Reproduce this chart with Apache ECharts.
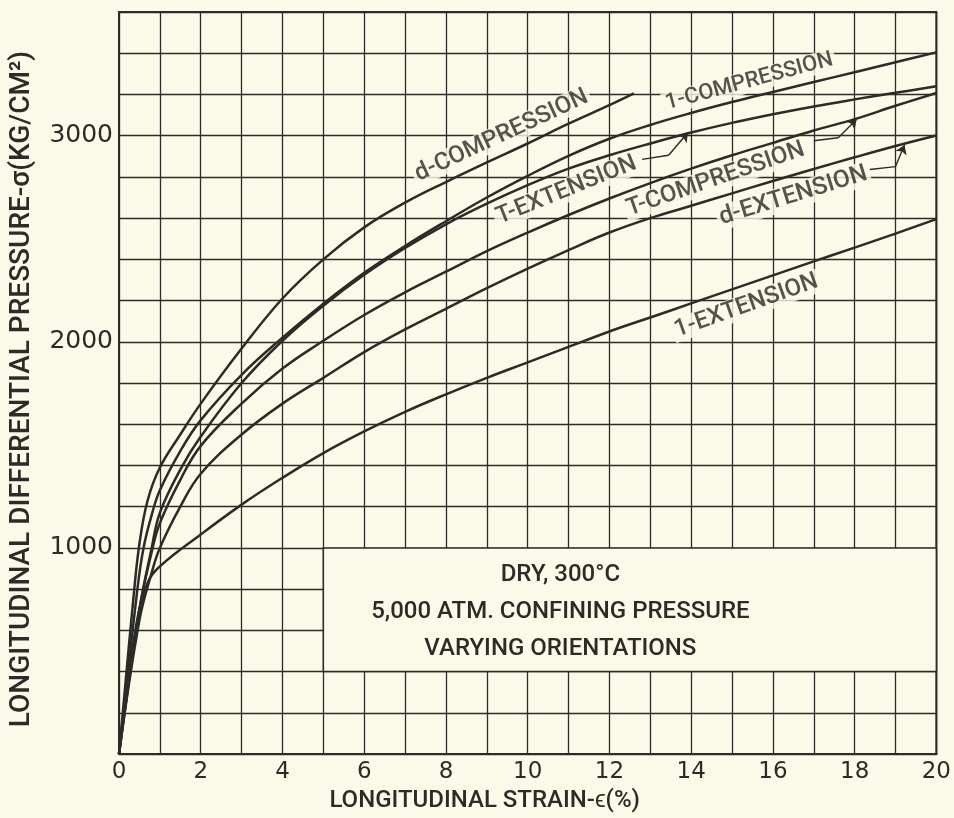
<!DOCTYPE html>
<html><head><meta charset="utf-8">
<script src="https://cdn.jsdelivr.net/npm/echarts@6/dist/echarts.min.js"></script>
<style>html,body{margin:0;padding:0;background:#FBFAE9;} #c{width:954px;height:818px;}</style>
</head><body><div id="c"></div>
<script>
// ---- data (strain %, stress kg/cm2) ----
const dCompression = [[0,0],[0.35,750],[0.5,1020],[0.7,1230],[1,1390],[1.5,1550],[2,1700],[3,1967],[4,2210],[5,2400],[6,2555],[7,2675],[8,2775],[9,2870],[10,2962],[11,3058],[12,3148],[12.6,3205]];
const oneCompression = [[0,0],[0.45,800],[0.6,1000],[0.8,1160],[1,1280],[1.5,1470],[2,1620],[3,1840],[4,2020],[5,2185],[6,2335],[7,2465],[8,2585],[9,2700],[10,2805],[11,2902],[12,2985],[13,3052],[14,3110],[15,3163],[16,3212],[17,3260],[18,3308],[19,3356],[20,3404]];
const tExtension = [[0,0],[0.5,700],[0.8,1000],[1,1170],[1.5,1380],[2,1540],[3,1800],[4,2005],[5,2175],[6,2325],[7,2455],[8,2570],[9,2670],[10,2760],[11,2840],[12,2905],[13,2962],[14,3015],[15,3062],[16,3104],[17,3142],[18,3176],[19,3208],[20,3240]];
const tCompression = [[0,0],[0.5,700],[0.8,980],[1,1120],[1.5,1330],[2,1495],[3,1700],[4,1870],[5,2005],[6,2130],[7,2240],[8,2340],[9,2440],[10,2530],[11,2615],[12,2695],[13,2770],[14,2840],[15,2905],[16,2965],[17,3025],[18,3080],[19,3145],[20,3207]];
const dExtension = [[0,0],[0.5,650],[0.8,880],[1,1000],[1.5,1200],[2,1360],[3,1550],[4,1700],[5,1825],[6,1950],[7,2060],[8,2160],[9,2260],[10,2355],[11,2445],[12,2530],[13,2600],[14,2660],[15,2720],[16,2780],[17,2838],[18,2895],[19,2950],[20,3001]];
const oneExtension = [[0,0],[0.4,600],[0.7,830],[1,910],[2,1065],[3,1210],[4,1340],[5,1460],[6,1565],[7,1660],[8,1745],[9,1825],[10,1900],[11,1975],[12,2050],[13,2118],[14,2186],[15,2254],[16,2322],[17,2390],[18,2457],[19,2525],[20,2595]];

const xTickLabels = ['0','2','4','6','8','10','12','14','16','18','20'];
const yTickLabels = ['1000','2000','3000'];

// curve labels: text, strain, stress, angle, font size
const curveLabels = [
  ['d-COMPRESSION', 9.36, 3000, 25, 24],
  ['1-COMPRESSION', 15.42, 3262, 15, 22],
  ['T-EXTENSION', 10.95, 2735, 22, 24],
  ['T-COMPRESSION', 14.6, 2788, 19, 24],
  ['d-EXTENSION', 16.5, 2708, 17, 24.5],
  ['1-EXTENSION', 15.35, 2174, 19.5, 24]
];
// leader dashes and arrows
const leaderDashes = [
  [[12.8,2885],[13.45,2905]],
  [[17.0,2975],[17.6,2990]],
  [[18.37,2836],[19.0,2850]]
];
const leaderArrows = [
  [[13.45,2905],[13.92,3015]],
  [[17.6,2990],[18.05,3080]],
  [[19.0,2850],[19.22,2955]]
];
const noteBox = [[5,400],[20,1000]];
const noteText = 'DRY, 300°C\n5,000 ATM. CONFINING PRESSURE\nVARYING ORIENTATIONS';
const notePos = [10.8, 691];

const BG = '#FBFAE9', INK = '#2b2b27';
const FONT = "Roboto, 'Liberation Sans'";

function curve(name, data){
  return {name, type:'line', data, smooth:0.4, showSymbol:false,
    lineStyle:{color:INK, width:2.5}, z:3};
}

const option = {
  backgroundColor: BG,
  animation: false,
  grid: {left:118, right:14, top:12, bottom:61, show:true, borderColor:INK, borderWidth:2, backgroundColor:'transparent'},
  xAxis: {type:'value', min:0, max:20, interval:1,
    name:'LONGITUDINAL STRAIN-ϵ(%)', nameLocation:'middle', nameGap:35,
    nameTextStyle:{fontFamily:FONT, fontWeight:500, fontSize:24, color:INK, padding:[0,86,0,0]},
    axisLine:{show:true, lineStyle:{color:INK, width:2}}, axisTick:{show:false},
    axisLabel:{fontFamily:'DejaVu Sans', fontSize:23, color:INK, margin:7,
      formatter: v => { const i = xTickLabels.indexOf(String(v)); return i>=0 ? xTickLabels[i] : ''; }},
    splitLine:{show:true, lineStyle:{color:INK, width:1.3}}},
  yAxis: {type:'value', min:0, max:3600, interval:200,
    name:'LONGITUDINAL DIFFERENTIAL PRESSURE-σ(KG/CM²)', nameLocation:'middle', nameGap:83,
    nameTextStyle:{fontFamily:FONT, fontWeight:500, fontSize:28, color:INK, padding:[0,12,0,0]},
    axisLine:{show:true, lineStyle:{color:INK, width:2}}, axisTick:{show:false},
    axisLabel:{fontFamily:'DejaVu Sans', fontSize:25, color:INK, margin:6,
      formatter: v => { const i = yTickLabels.indexOf(String(v)); return i>=0 ? yTickLabels[i] : ''; }},
    splitLine:{show:true, lineStyle:{color:INK, width:1.3}}},
  series: [
    {name:'notes', type:'scatter', data:[], z:2,
      markArea:{silent:true, itemStyle:{color:BG, borderColor:INK, borderWidth:1.5},
        data:[[{coord:noteBox[0]},{coord:noteBox[1]}]]},
      markPoint:{silent:true, symbolSize:0,
        data:[{coord:notePos, value:0, label:{show:true, formatter:noteText, fontFamily:FONT, fontWeight:500, fontSize:24, lineHeight:37, color:INK, align:'center', verticalAlign:'middle'}}]}
    },
    curve('d-COMPRESSION', dCompression),
    curve('1-COMPRESSION', oneCompression),
    curve('T-EXTENSION', tExtension),
    curve('T-COMPRESSION', tCompression),
    curve('d-EXTENSION', dExtension),
    curve('1-EXTENSION', oneExtension),
    {name:'labels', type:'scatter', symbolSize:0, z:5,
      data: curveLabels.map(l => ({value:[l[1], l[2]], label:{show:true, formatter:l[0], rotate:l[3], position:'inside',
        fontFamily:FONT, fontWeight:500, fontSize:l[4], color:INK, backgroundColor:BG, padding:[0,3]}})),
      markLine:{silent:true, symbol:'none', lineStyle:{color:INK, width:1.4, type:'solid'}, label:{show:false},
        data: leaderDashes.map(s => [{coord:s[0]},{coord:s[1]}])}
    },
    {name:'arrows', type:'scatter', symbolSize:0, data:[], z:5,
      markLine:{silent:true, symbol:['none','arrow'], symbolSize:9, lineStyle:{color:INK, width:1.4, type:'solid'}, label:{show:false},
        data: leaderArrows.map(s => [{coord:s[0]},{coord:s[1]}])}
    }
  ]
};
echarts.init(document.getElementById('c'), null, {renderer:'canvas'}).setOption(option);
</script></body></html>
